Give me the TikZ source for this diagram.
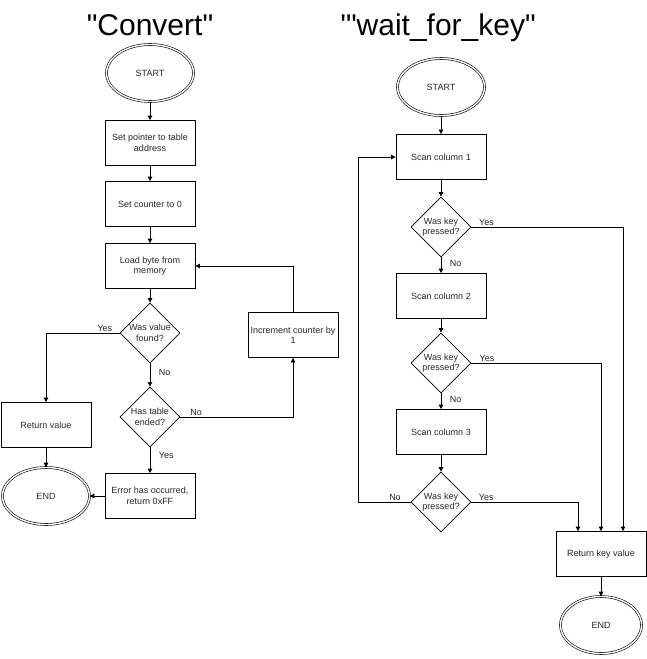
\documentclass[tikz,border=0pt]{standalone}
\usepackage{fontspec}
\setmainfont{Liberation Sans}
\usetikzlibrary{shapes.geometric,arrows.meta}

\tikzset{
  every node/.style={font=\fontsize{9}{10.5}\selectfont, text=black!85},
  term/.style={ellipse, draw, double, double distance=1.4pt, line width=0.6pt,
    minimum width=87pt, minimum height=57pt, inner sep=0pt},
  proc/.style={rectangle, draw, line width=0.8pt, minimum width=90pt,
    minimum height=45pt, align=center, inner sep=0pt},
  decide/.style={diamond, draw, line width=0.8pt, minimum width=60pt,
    minimum height=60pt, inner sep=0pt, align=center},
  flow/.style={draw, line width=0.8pt, -{Triangle[length=4.5pt,width=4.5pt]}},
  lbl/.style={inner sep=1.5pt},
  ttl/.style={font=\fontsize{30}{32}\selectfont, text=black, anchor=base},
}

\begin{document}
\begin{tikzpicture}[x=1pt, y=-1pt]
  \useasboundingbox (0,0) rectangle (646,659);

  % "Convert"
  \node[ttl] (convTitle) at (150,35) {\textquotedbl Convert\textquotedbl};
  \node[term] (startA) at (150,73) {START};
  \node[proc] (ptrA) at (150,143) {Set pointer to table\\address};
  \node[proc] (cntA) at (150,204) {Set counter to 0};
  \node[proc] (loadA) at (150,266) {Load byte from\\memory};
  \node[decide] (foundA) at (150,333) {Was value\\found?};
  \node[decide] (endedA) at (150,417) {Has table\\ended?};
  \node[proc] (incA) at (293,335) {Increment counter by\\1};
  \node[proc] (retA) at (46,425) {Return value};
  \node[proc] (errA) at (150,496) {Error has occurred,\\return 0xFF};
  \node[term] (endA) at (46,496) {END};

  \draw[flow] (startA) -- (ptrA);
  \draw[flow] (ptrA) -- (cntA);
  \draw[flow] (cntA) -- (loadA);
  \draw[flow] (loadA) -- (foundA);
  \draw[flow] (foundA.west) -| node[lbl, pos=0.1, above] {Yes} (retA.north);
  \draw[flow] (foundA.south) -- node[lbl, right=7pt, pos=0.4] {No} (endedA.north);
  \draw[flow] (endedA.east) -| node[lbl, pos=0.07, above] {No} (incA.south);
  \draw[flow] (endedA.south) -- node[lbl, right=7pt, pos=0.3] {Yes} (errA.north);
  \draw[flow] (incA.north) |- (loadA.east);
  \draw[flow] (retA) -- (endA);
  \draw[flow] (errA) -- (endA);

  % "wait_for_key"
  \node[ttl] (keyTitle) at (438,35) {\textquotesingle\textquotedbl wait\_for\_key\textquotedbl};
  \node[term] (startB) at (441,87) {START};
  \node[proc] (scan1) at (441,157) {Scan column 1};
  \node[decide] (keyB1) at (441,227) {Was key\\pressed?};
  \node[proc] (scan2) at (441,296) {Scan column 2};
  \node[decide] (keyB2) at (441,363) {Was key\\pressed?};
  \node[proc] (scan3) at (441,432) {Scan column 3};
  \node[decide] (keyB3) at (441,502) {Was key\\pressed?};
  \node[proc] (retB) at (601,554) {Return key value};
  \node[term, minimum width=81pt] (endB) at (601,625) {END};

  \draw[flow] (startB) -- (scan1);
  \draw[flow] (scan1) -- (keyB1);
  \draw[flow] (keyB1) -- node[lbl, right=7pt, pos=0.4] {No} (scan2);
  \draw[flow] (scan2) -- (keyB2);
  \draw[flow] (keyB2) -- node[lbl, right=7pt, pos=0.4] {No} (scan3);
  \draw[flow] (scan3) -- (keyB3);
  \draw[flow] (keyB1.east) -| node[lbl, pos=0.05, above] {Yes} ([xshift=22pt]retB.north);
  \draw[flow] (keyB2.east) -| node[lbl, pos=0.06, above] {Yes} (retB.north);
  \draw[flow] (keyB3.east) -| node[lbl, pos=0.07, above] {Yes} ([xshift=-23pt]retB.north);
  \draw[flow] (keyB3.west) -- node[lbl, pos=0.3, above] {No} ++(-52,0) |- (scan1.west);
  \draw[flow] (retB) -- (endB);
\end{tikzpicture}
\end{document}
